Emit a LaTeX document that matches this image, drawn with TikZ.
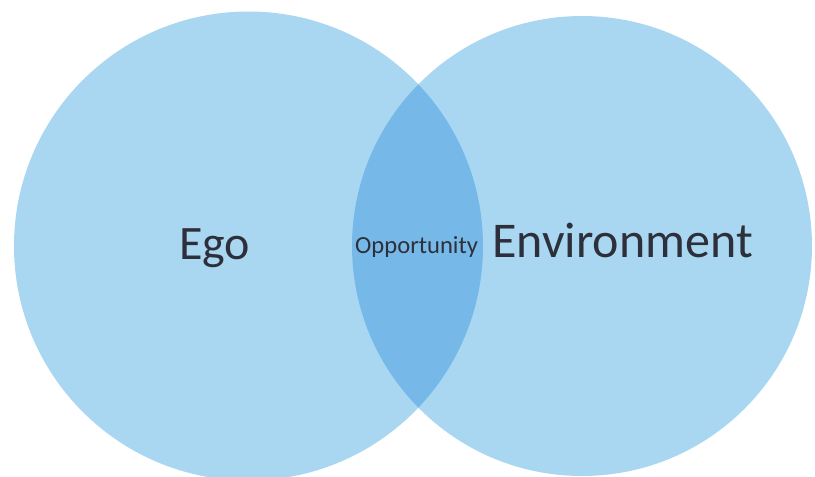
\documentclass[tikz,border=0pt]{standalone}
\usepackage{fontspec}
\setmainfont{Carlito}
\definecolor{bubbleblue}{RGB}{169,215,242}
\definecolor{lensblue}{RGB}{118,185,232}
\definecolor{inkgrey}{RGB}{45,47,58}
\tikzset{
	bubble/.style={fill=bubbleblue, draw=none},
	label text/.style={inner sep=0pt, anchor=base west, text=inkgrey}
}
\begin{document}
\begin{tikzpicture}[x=1pt, y=-1pt]
		%%%%% START %%%%%
		
		\useasboundingbox (0, 0) rectangle (815, 477);
		
		\fill[bubble] (248.5, 246) circle (234.5);
		\fill[bubble] (582, 246) circle (230);
		
		\begin{scope}
			\clip (248.5, 246) circle (234.5);
			\fill[lensblue] (582, 246) circle (230);
		\end{scope}
		
		\node[label text, font=\fontsize{48}{48}\selectfont] (ego) at (179, 259) {Ego};
		\node[label text, font=\fontsize{24.6}{25}\selectfont] (opp) at (355, 253) {Opportunity};
		\node[label text, font=\fontsize{50}{50}\selectfont] (env) at (492, 257) {Environment};
		
		%%%%% END %%%%%
	\end{tikzpicture}
\end{document}
